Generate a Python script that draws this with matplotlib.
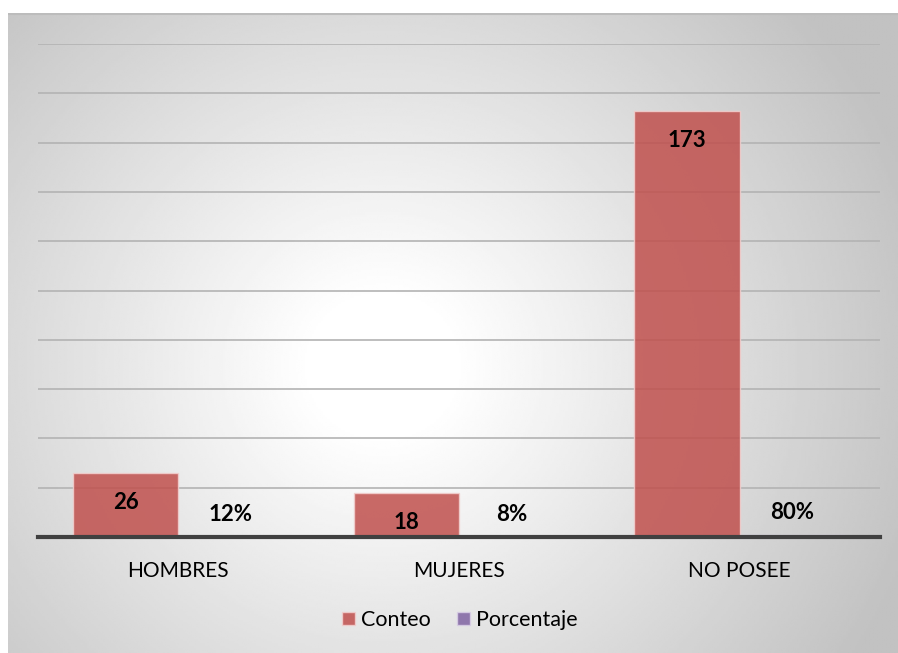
import numpy as np
import matplotlib.pyplot as plt

plt.rcParams['font.family'] = ['Lato', 'DejaVu Sans']

# data
categorias = ['HOMBRES', 'MUJERES', 'NO POSEE']
conteo = [26, 18, 173]
porcentaje = [0.12, 0.08, 0.80]

fig = plt.figure(figsize=(8.98, 6.53), dpi=100)

# chart area background: radial gradient, white centre, grey edges
bg = fig.add_axes([8 / 898, 0, 1 - 8 / 898, 1 - 13 / 653])
bg.set_axis_off()
ny, nx = 300, 400
yy, xx = np.mgrid[0:ny, 0:nx]
cx, cy = 0.42 * nx, 0.55 * ny
r = np.sqrt(((xx - cx) / nx) ** 2 + ((yy - cy) / ny * 0.75) ** 2)
t = np.clip((r - 0.08) / 0.55, 0, 1)
shade = 1.0 - 0.24 * t
bg.imshow(shade, cmap='gray', vmin=0, vmax=1, aspect='auto',
          extent=[0, 1, 0, 1], origin='upper', interpolation='bilinear')
bg.set_xlim(0, 1)
bg.set_ylim(0, 1)
bg.plot([0, 1], [0.998, 0.998], color='#bcbcbc', lw=1.5)

ax = fig.add_axes([38 / 898, 1 - 537 / 653, (880 - 38) / 898, (537 - 44) / 653])
ax.patch.set_alpha(0)

x = np.arange(len(categorias))
w = 0.375
b1 = ax.bar(x - w / 2, conteo, w, color='#C0504D', alpha=0.85,
            edgecolor='#f2d0cf', linewidth=1, label='Conteo', zorder=3)
b2 = ax.bar(x + w / 2, porcentaje, w, color='#8064A2', alpha=0.85,
            edgecolor='#d9cfe6', linewidth=1, label='Porcentaje', zorder=3)

for rect, v in zip(b1, conteo):
    ax.text(rect.get_x() + rect.get_width() / 2, v - 12, str(v),
            ha='center', va='center', fontsize=16, fontweight='bold', zorder=4)
for rect, v in zip(b2, porcentaje):
    ax.text(rect.get_x() + rect.get_width() / 2, v + 9, f'{v:.0%}',
            ha='center', va='center', fontsize=16, fontweight='bold', zorder=4)

ax.set_xlim(-0.5, len(categorias) - 0.5)
ax.set_ylim(0, 200)
ax.set_yticks(np.arange(0, 201, 20))
ax.set_yticklabels([])
ax.tick_params(axis='y', length=0)
ax.grid(axis='y', color='#b3b3b3', linewidth=1.2, zorder=0)
ax.set_axisbelow(True)
for s in ['top', 'right', 'left']:
    ax.spines[s].set_visible(False)
ax.spines['bottom'].set_color('#404040')
ax.spines['bottom'].set_linewidth(3)
ax.spines['bottom'].set_zorder(5)
ax.set_xticks(x)
ax.set_xticklabels(categorias, fontsize=15)
ax.tick_params(axis='x', length=0, pad=17)

fig.legend(handles=[b1, b2], loc='center', bbox_to_anchor=(0.512, 1 - 620 / 653),
           ncol=2, frameon=False, fontsize=15.5, handlelength=0.6, handleheight=0.6,
           handletextpad=0.3, columnspacing=1.2)

fig.savefig('out.png', dpi=100)
